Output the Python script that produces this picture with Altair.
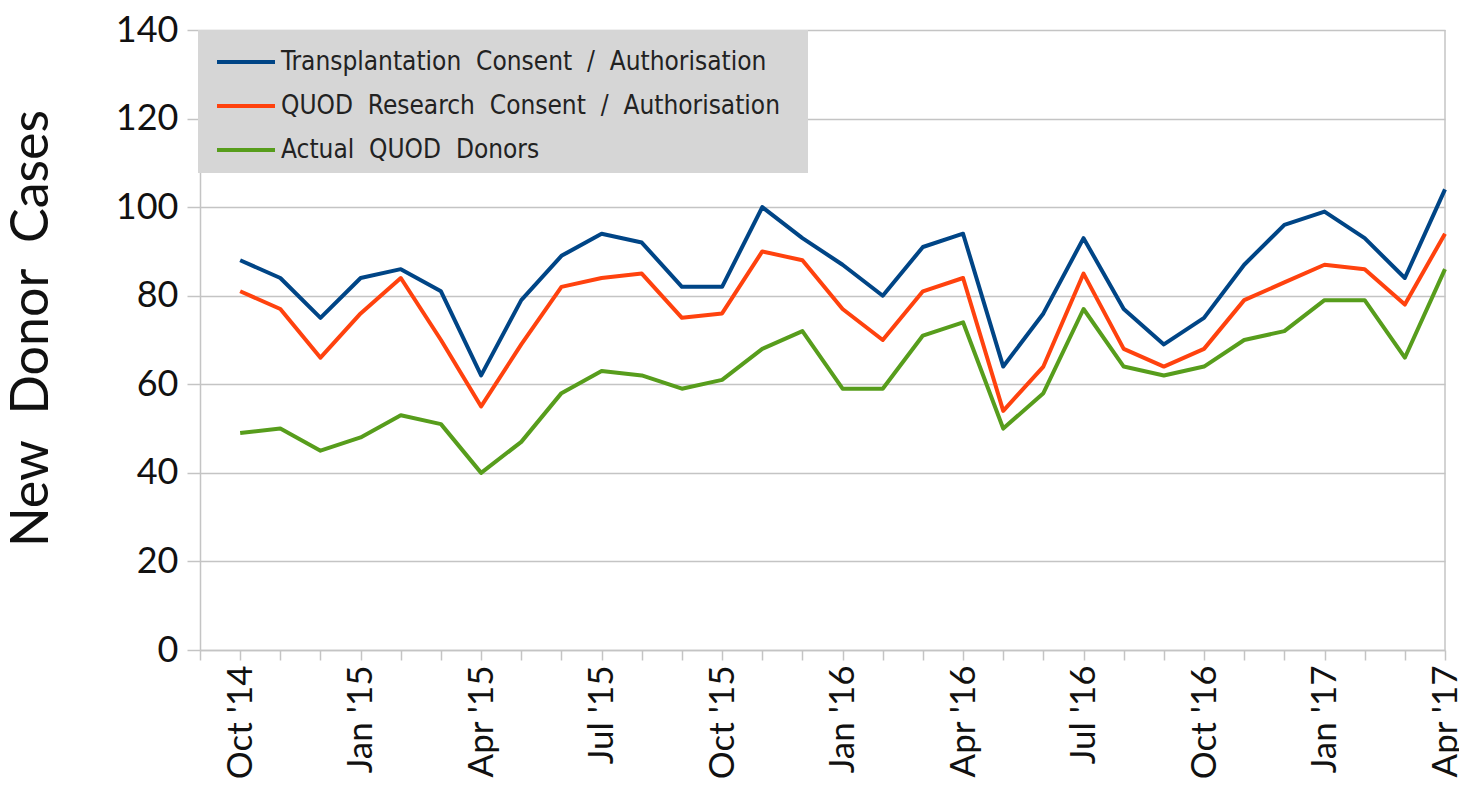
import json
import altair as alt
import pandas as pd

month_labels = ["Oct '14", "Nov '14", "Dec '14", "Jan '15", "Feb '15", "Mar '15", "Apr '15", "May '15",
                "Jun '15", "Jul '15", "Aug '15", "Sep '15", "Oct '15", "Nov '15", "Dec '15", "Jan '16",
                "Feb '16", "Mar '16", "Apr '16", "May '16", "Jun '16", "Jul '16", "Aug '16", "Sep '16",
                "Oct '16", "Nov '16", "Dec '16", "Jan '17", "Feb '17", "Mar '17", "Apr '17"]

series_names = ["Transplantation\u00a0 Consent\u00a0 /\u00a0 Authorisation",
                "QUOD\u00a0 Research\u00a0 Consent\u00a0 /\u00a0 Authorisation",
                "Actual\u00a0 QUOD\u00a0 Donors"]

transplant = [88, 84, 75, 84, 86, 81, 62, 79, 89, 94, 92, 82, 82, 100, 93, 87, 80, 91, 94, 64, 76, 93,
              77, 69, 75, 87, 96, 99, 93, 84, 104]
research = [81, 77, 66, 76, 84, 70, 55, 69, 82, 84, 85, 75, 76, 90, 88, 77, 70, 81, 84, 54, 64, 85,
            68, 64, 68, 79, 83, 87, 86, 78, 94]
donors = [49, 50, 45, 48, 53, 51, 40, 47, 58, 63, 62, 59, 61, 68, 72, 59, 59, 71, 74, 50, 58, 77,
          64, 62, 64, 70, 72, 79, 79, 66, 86]

colors = ["#004586", "#ff420e", "#579d1c"]
y_ticks = [0, 20, 40, 60, 80, 100, 120, 140]

rows = []
for name, vals in zip(series_names, [transplant, research, donors]):
    for i, v in enumerate(vals):
        rows.append({"m": i + 1, "value": v, "series": name})
df = pd.DataFrame(rows)
edge = pd.DataFrame({"m": [len(month_labels)]})

axis_labels = [""] + month_labels
label_expr = "datum.value % 3 == 1 ? " + json.dumps(axis_labels) + "[datum.value] : ''"

grey = "#c4c4c4"

x_enc = alt.X(
    "m:Q",
    scale=alt.Scale(domain=[0, len(month_labels)], nice=False, zero=False),
    axis=alt.Axis(
        values=list(range(len(month_labels) + 1)),
        labelExpr=label_expr,
        labelAngle=270,
        labelFont="Lato",
        labelFontSize=35,
        labelColor="#111111",
        labelPadding=5,
        labelOverlap=False,
        labelBound=False,
        labelFlush=False,
        tickSize=10,
        tickColor=grey,
        tickWidth=1.5,
        domainColor=grey,
        domainWidth=1.5,
        grid=False,
        title=None,
    ),
)

y_enc = alt.Y(
    "value:Q",
    scale=alt.Scale(domain=[0, 140], nice=False),
    axis=alt.Axis(
        values=y_ticks,
        labelFont="Lato",
        labelFontSize=36,
        labelColor="#111111",
        labelPadding=9,
        tickSize=13,
        tickColor=grey,
        tickWidth=1.5,
        domainColor=grey,
        domainWidth=1.5,
        gridColor=grey,
        gridWidth=1.5,
        title="New\u00a0\u00a0Donor\u00a0\u00a0Cases",
        titleFont="Lato",
        titleFontSize=52,
        titleFontWeight="normal",
        titleColor="#111111",
        titleX=-142,
        titleY=298,
    ),
)

rule = alt.Chart(edge).mark_rule(color=grey, strokeWidth=1.5).encode(x=x_enc)

lines = alt.Chart(df).mark_line(strokeWidth=4, strokeJoin="round").encode(
    x=x_enc,
    y=y_enc,
    color=alt.Color(
        "series:N",
        scale=alt.Scale(domain=series_names, range=colors),
        legend=alt.Legend(
            orient="none",
            legendX=-2,
            legendY=0,
            fillColor="#d6d6d6",
            padding=10,
            rowPadding=9,
            labelFont="Liberation Sans Narrow, DejaVu Sans Condensed, sans-serif",
            labelFontSize=26,
            labelColor="#222222",
            labelLimit=1000,
            labelOffset=13,
            labelExpr="datum.label + '\u2800'",
            title=None,
            symbolType="M-1.45,0L1.45,0",
            symbolStrokeWidth=4,
            symbolSize=1600,
            symbolOffset=16,
        ),
    ),
)

chart = (
    alt.layer(rule, lines)
    .properties(
        width=1245,
        height=620,
        autosize=alt.AutoSizeParams(type="none"),
        padding={"left": 192, "top": 22, "right": 14, "bottom": 130},
        background="white",
    )
    .configure_view(stroke=None)
)

chart.save("out.html", embed_options={"renderer": "svg", "actions": False})
